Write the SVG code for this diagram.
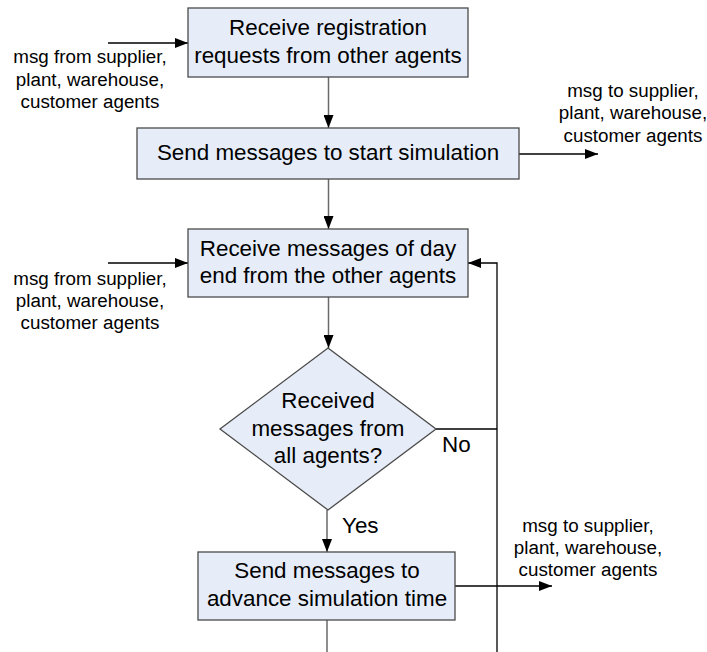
<svg xmlns="http://www.w3.org/2000/svg" width="707" height="652" viewBox="0 0 707 652">
<style>
.box{fill:#E6EDF8;stroke:#4a4a4a;stroke-width:1.3}
.t{font-family:"Liberation Sans",Arial,sans-serif;font-size:22.4px;fill:#000;text-anchor:middle}
.lbl{font-family:"Liberation Sans",Arial,sans-serif;font-size:18.8px;fill:#000;text-anchor:middle}
.c{fill:none;stroke:#000;stroke-width:1.3}
.cg{fill:none;stroke:#6a6a6a;stroke-width:1.5}
</style>
<defs>
<marker id="ah" markerUnits="userSpaceOnUse" markerWidth="13" markerHeight="10" refX="13" refY="5" orient="auto">
<path d="M0,0 L13,5 L0,10 z" fill="#000"/>
</marker>
</defs>
<g id="connectors">
<path class="c" d="M108,43 H188" marker-end="url(#ah)"/>
<path class="cg" d="M328.5,77 V128" marker-end="url(#ah)"/>
<path class="c" d="M519,154 H598" marker-end="url(#ah)"/>
<path class="cg" d="M328.5,179 V229" marker-end="url(#ah)"/>
<path class="c" d="M108,263 H188" marker-end="url(#ah)"/>
<path class="cg" d="M328.5,297 V348" marker-end="url(#ah)"/>
<path class="c" d="M436,429 H497"/>
<path class="c" d="M497,652 V263 H468" marker-end="url(#ah)"/>
<path class="cg" d="M327,510 V552" marker-end="url(#ah)"/>
<path class="c" d="M455,586 H552" marker-end="url(#ah)"/>
<path class="cg" d="M327,620 V652"/>
</g>
<g id="n1">
<rect class="box" x="188" y="8" width="280" height="69"/>
<text class="t" x="328" y="35">Receive registration</text>
<text class="t" x="328" y="63">requests from other agents</text>
</g>
<g id="n2">
<rect class="box" x="137" y="128" width="382" height="51"/>
<text class="t" x="328" y="160">Send messages to start simulation</text>
</g>
<g id="n3">
<rect class="box" x="188" y="229" width="280" height="68"/>
<text class="t" x="328" y="256">Receive messages of day</text>
<text class="t" x="328" y="283">end from the other agents</text>
</g>
<g id="n4">
<polygon class="box" points="328,348 436,429 328,510 220,429"/>
<text class="t" x="328" y="408">Received</text>
<text class="t" x="328" y="436">messages from</text>
<text class="t" x="328" y="463">all agents?</text>
</g>
<g id="n5">
<rect class="box" x="198" y="552" width="257" height="68"/>
<text class="t" x="327" y="578">Send messages to</text>
<text class="t" x="327" y="606">advance simulation time</text>
</g>
<g id="labels">
<text class="lbl" x="90" y="63">msg from supplier,</text>
<text class="lbl" x="90" y="86">plant, warehouse,</text>
<text class="lbl" x="90" y="108">customer agents</text>
<text class="lbl" x="633" y="97">msg to supplier,</text>
<text class="lbl" x="633" y="119">plant, warehouse,</text>
<text class="lbl" x="633" y="142">customer agents</text>
<text class="lbl" x="90" y="285">msg from supplier,</text>
<text class="lbl" x="90" y="307">plant, warehouse,</text>
<text class="lbl" x="90" y="329">customer agents</text>
<text class="lbl" x="588" y="532">msg to supplier,</text>
<text class="lbl" x="588" y="554">plant, warehouse,</text>
<text class="lbl" x="588" y="576">customer agents</text>
<text class="t" x="442" y="452" style="text-anchor:start">No</text>
<text class="t" x="342" y="533" style="text-anchor:start">Yes</text>
</g>
</svg>
